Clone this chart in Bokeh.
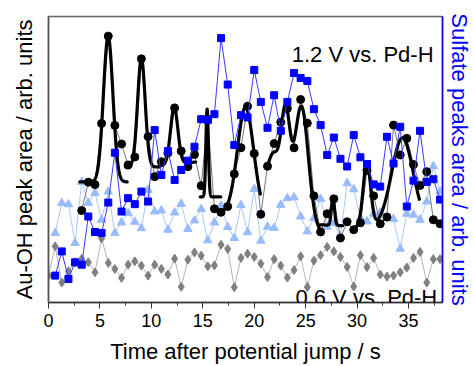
import numpy as np
from bokeh.plotting import figure
from bokeh.models import Range1d, LinearAxis, Label, FixedTicker
from bokeh.embed import file_html
from bokeh.resources import INLINE

# ---------------- data ----------------
time_s = [0.00, 0.65, 1.29, 1.94, 2.58, 3.23, 3.87, 4.52, 5.16, 5.81,
          6.45, 7.10, 7.74, 8.39, 9.03, 9.68, 10.32, 10.97, 11.61, 12.26,
          12.90, 13.55, 14.19, 14.84, 15.48, 16.13, 16.77, 17.42, 18.06, 18.71,
          19.35, 20.00, 20.64, 21.29, 21.93, 22.58, 23.22, 23.87, 24.51, 25.16,
          25.80, 26.45, 27.09, 27.74, 28.38, 29.03, 29.67, 30.32, 30.96, 31.61,
          32.25, 32.90, 33.54, 34.19, 34.83, 35.48, 36.12, 36.77, 37.41, 38.06]

# Au-OH peak area at 1.2 V (black circles), samples 5..59
auoh_12 = [92.3, 120.7, 118.3, 179.7, 267.3, 177.7, 159.0, 138.0, 146.0, 244.5,
           166.5, 126.3, 141.3, 150.0, 195.3, 152.0, 136.3, 148.5, 117.2, 184.0,
           94.0, 90.5, 96.3, 129.0, 155.3, 197.0, 149.5, 88.5, 136.7, 159.5,
           181.0, 194.7, 155.2, 203.7, 180.0, 107.0, 70.8, 89.0, 104.0, 64.7,
           81.0, 73.0, 80.0, 132.7, 107.0, 79.0, 85.7, 178.0, 148.0, 164.7,
           138.5, 117.5, 131.3, 83.0, 79.0]

# Sulfate peaks area at 1.2 V (blue squares), samples 1..59
sulfate_12 = [27.0, 51.3, 23.7, 40.3, 38.0, 86.3, 70.7, 69.7, 100.3, 150.3,
              91.3, 104.7, 98.7, 111.3, 101.3, 173.0, 128.0, 152.0, 123.0, 133.0,
              142.3, 156.3, 184.0, 183.0, 189.0, 265.3, 218.7, 158.0, 188.0, 185.7,
              233.3, 201.3, 175.3, 208.0, 172.3, 201.3, 230.3, 225.3, 222.3, 194.0,
              178.0, 148.0, 165.5, 144.2, 136.5, 168.0, 145.7, 139.0, 118.5, 116.3,
              166.3, 139.5, 176.3, 96.3, 122.3, 172.3, 121.0, 123.7, 103.3]

# Sulfate peaks area at 0.6 V (light blue triangles), samples 1..59
sulfate_06 = [69.7, 99.7, 98.5, 59.7, 121.0, 100.0, 110.0, 83.0, 111.3, 69.7,
              80.3, 89.7, 81.0, 74.5, 113.0, 91.3, 92.3, 73.0, 90.3, 99.0,
              73.7, 82.3, 93.7, 62.3, 80.3, 97.0, 75.7, 64.7, 97.7, 70.5,
              113.7, 62.0, 76.0, 74.7, 98.0, 104.7, 105.5, 86.3, 71.3, 84.7,
              104.0, 76.0, 79.7, 66.3, 119.7, 113.5, 85.0, 81.3, 89.0, 90.3,
              85.7, 83.7, 54.0, 89.0, 88.0, 83.0, 101.3, 136.7, 111.3]

# Au-OH peak area at 0.6 V (gray diamonds), samples 0..59
auoh_06 = [27.0, 56.3, 20.0, 31.3, 40.3, 43.7, 40.3, 30.3, 64.3, 39.7,
           33.7, 24.7, 38.0, 41.3, 37.0, 27.0, 38.0, 33.7, 28.0, 44.0,
           15.7, 43.0, 50.3, 47.0, 36.3, 37.3, 58.0, 53.7, 15.3, 44.7,
           49.0, 45.7, 39.0, 25.5, 43.5, 37.0, 25.0, 32.5, 46.3, 15.5,
           42.0, 47.5, 55.7, 51.3, 45.7, 35.7, 16.0, 47.5, 35.5, 44.7,
           28.0, 26.0, 27.0, 30.3, 35.0, 44.7, 50.8, 20.0, 43.5, 43.5]

# Gaussian peak fits of the 1.2 V Au-OH signal (thick black curves)
fit_start = [3.05, 7.50, 10.80, 14.75, 16.60, 21.25, 26.40, 29.50]
fit_end = [7.65, 10.80, 14.30, 16.75, 20.60, 26.45, 28.60, 36.05]
fit_base_start = [121.0, 136.0, 137.0, 106.0, 90.0, 112.0, 78.0, 75.0]
fit_base_end = [121.0, 136.0, 141.0, 106.0, 90.0, 70.0, 77.0, 78.0]
peak_window = [0, 1, 2, 3, 4, 5, 5, 5, 6, 7, 7]
peak_center = [5.80, 9.03, 12.22, 15.42, 19.15, 21.90, 23.05, 24.60, 27.65, 30.95, 34.40]
peak_height = [146.0, 109.0, 57.0, 88.0, 106.0, 42.0, 88.0, 112.0, 28.0, 65.0, 88.0]
peak_sigma = [0.46, 0.37, 0.36, 0.12, 0.78, 0.60, 0.42, 0.65, 0.15, 0.36, 1.05]

x_ticks = [0, 5, 10, 15, 20, 25, 30, 35]
x_minor = [2.5, 7.5, 12.5, 17.5, 22.5, 27.5, 32.5, 37.5]

FONT = "Liberation Sans"

# ---------------- figure ----------------
p = figure(width=474, height=366, output_backend="svg", toolbar_location=None,
           x_range=Range1d(0, 38.3), y_range=Range1d(0, 287),
           min_border_left=48, min_border_right=32, min_border_top=16,
           min_border_bottom=63)
p.extra_y_ranges = {"sulfate": Range1d(0, 287)}
p.grid.visible = False
p.outline_line_color = "#666666"
p.outline_line_width = 1.5
p.background_fill_color = "white"
p.border_fill_color = "white"

xa = p.xaxis[0]
xa.ticker = FixedTicker(ticks=x_ticks, minor_ticks=x_minor)
xa.axis_label = "Time after potential jump / s"
xa.axis_label_text_font = FONT
xa.axis_label_text_font_size = "22px"
xa.axis_label_text_font_style = "normal"
xa.axis_label_text_color = "black"
xa.axis_label_standoff = 9
xa.major_label_text_font = FONT
xa.major_label_text_font_size = "18px"
xa.major_label_text_color = "black"
xa.major_label_standoff = 5
xa.axis_line_color = "#333333"
xa.axis_line_width = 1.5
xa.major_tick_line_color = "#333333"
xa.minor_tick_line_color = "#333333"
xa.major_tick_out = 6
xa.major_tick_in = 0
xa.minor_tick_out = 3
xa.minor_tick_in = 0

ya = p.yaxis[0]
ya.ticker = FixedTicker(ticks=[])
ya.axis_label = "Au-OH peak area / arb. units"
ya.axis_label_text_font = FONT
ya.axis_label_text_font_size = "22px"
ya.axis_label_text_font_style = "normal"
ya.axis_label_text_color = "black"
ya.axis_label_standoff = 12
ya.axis_line_color = "#555555"
ya.axis_line_width = 1.5
ya.major_label_text_font_size = "0px"

ra = LinearAxis(y_range_name="sulfate", ticker=FixedTicker(ticks=[]),
                axis_label="Sulfate peaks area / arb. units")
ra.axis_label_text_font = FONT
ra.axis_label_text_font_size = "22px"
ra.axis_label_text_font_style = "normal"
ra.axis_label_text_color = "#0000ff"
ra.axis_label_standoff = 4
ra.axis_line_color = "#0000ff"
ra.axis_line_width = 1.5
ra.major_label_text_font_size = "0px"
p.add_layout(ra, "right")

# gray diamonds (0.6 V Au-OH)
t06 = time_s[0:len(auoh_06)]
p.line(t06, auoh_06, color="#b4b4b4", line_width=1)
p.scatter(t06, auoh_06, marker="diamond", size=9, color="#808080")

# light blue triangles (0.6 V sulfate)
ts06 = time_s[1:1 + len(sulfate_06)]
p.line(ts06, sulfate_06, color="#a9c8ff", line_width=1, y_range_name="sulfate")
p.scatter(ts06, sulfate_06, marker="triangle", size=8.5, color="#99bbff",
          y_range_name="sulfate")

# black circles (1.2 V Au-OH) + thin connecting line
ta12 = time_s[5:5 + len(auoh_12)]
p.line(ta12, auoh_12, color="#777777", line_width=1)

# fitted peaks
for w in range(len(fit_start)):
    tt = np.linspace(fit_start[w], fit_end[w], 240)
    frac = (tt - fit_start[w]) / (fit_end[w] - fit_start[w])
    yy = fit_base_start[w] + (fit_base_end[w] - fit_base_start[w]) * frac
    for k in range(len(peak_window)):
        if peak_window[k] == w:
            yy = yy + peak_height[k] * np.exp(-(tt - peak_center[k]) ** 2 /
                                              (2 * peak_sigma[k] ** 2))
    p.line(tt, yy, color="black", line_width=3.2, line_join="round",
           line_cap="round")

p.scatter(ta12, auoh_12, marker="circle", size=8, color="black")

# blue squares (1.2 V sulfate)
ts12 = time_s[1:1 + len(sulfate_12)]
p.line(ts12, sulfate_12, color="#3a3aff", line_width=1, y_range_name="sulfate")
p.scatter(ts12, sulfate_12, marker="square", size=7, color="#0000ff",
          y_range_name="sulfate")

# annotations
p.add_layout(Label(x=37.43, y=249, text="1.2 V vs. Pd-H", text_align="right",
                   text_baseline="alphabetic", text_font=FONT,
                   text_font_size="22px", text_color="black"))
p.add_layout(Label(x=37.79, y=4.7, text="0.6 V vs. Pd-H", text_align="right",
                   text_baseline="alphabetic", text_font=FONT,
                   text_font_size="22px", text_color="black"))

open("out.html", "w").write(file_html(p, INLINE))
